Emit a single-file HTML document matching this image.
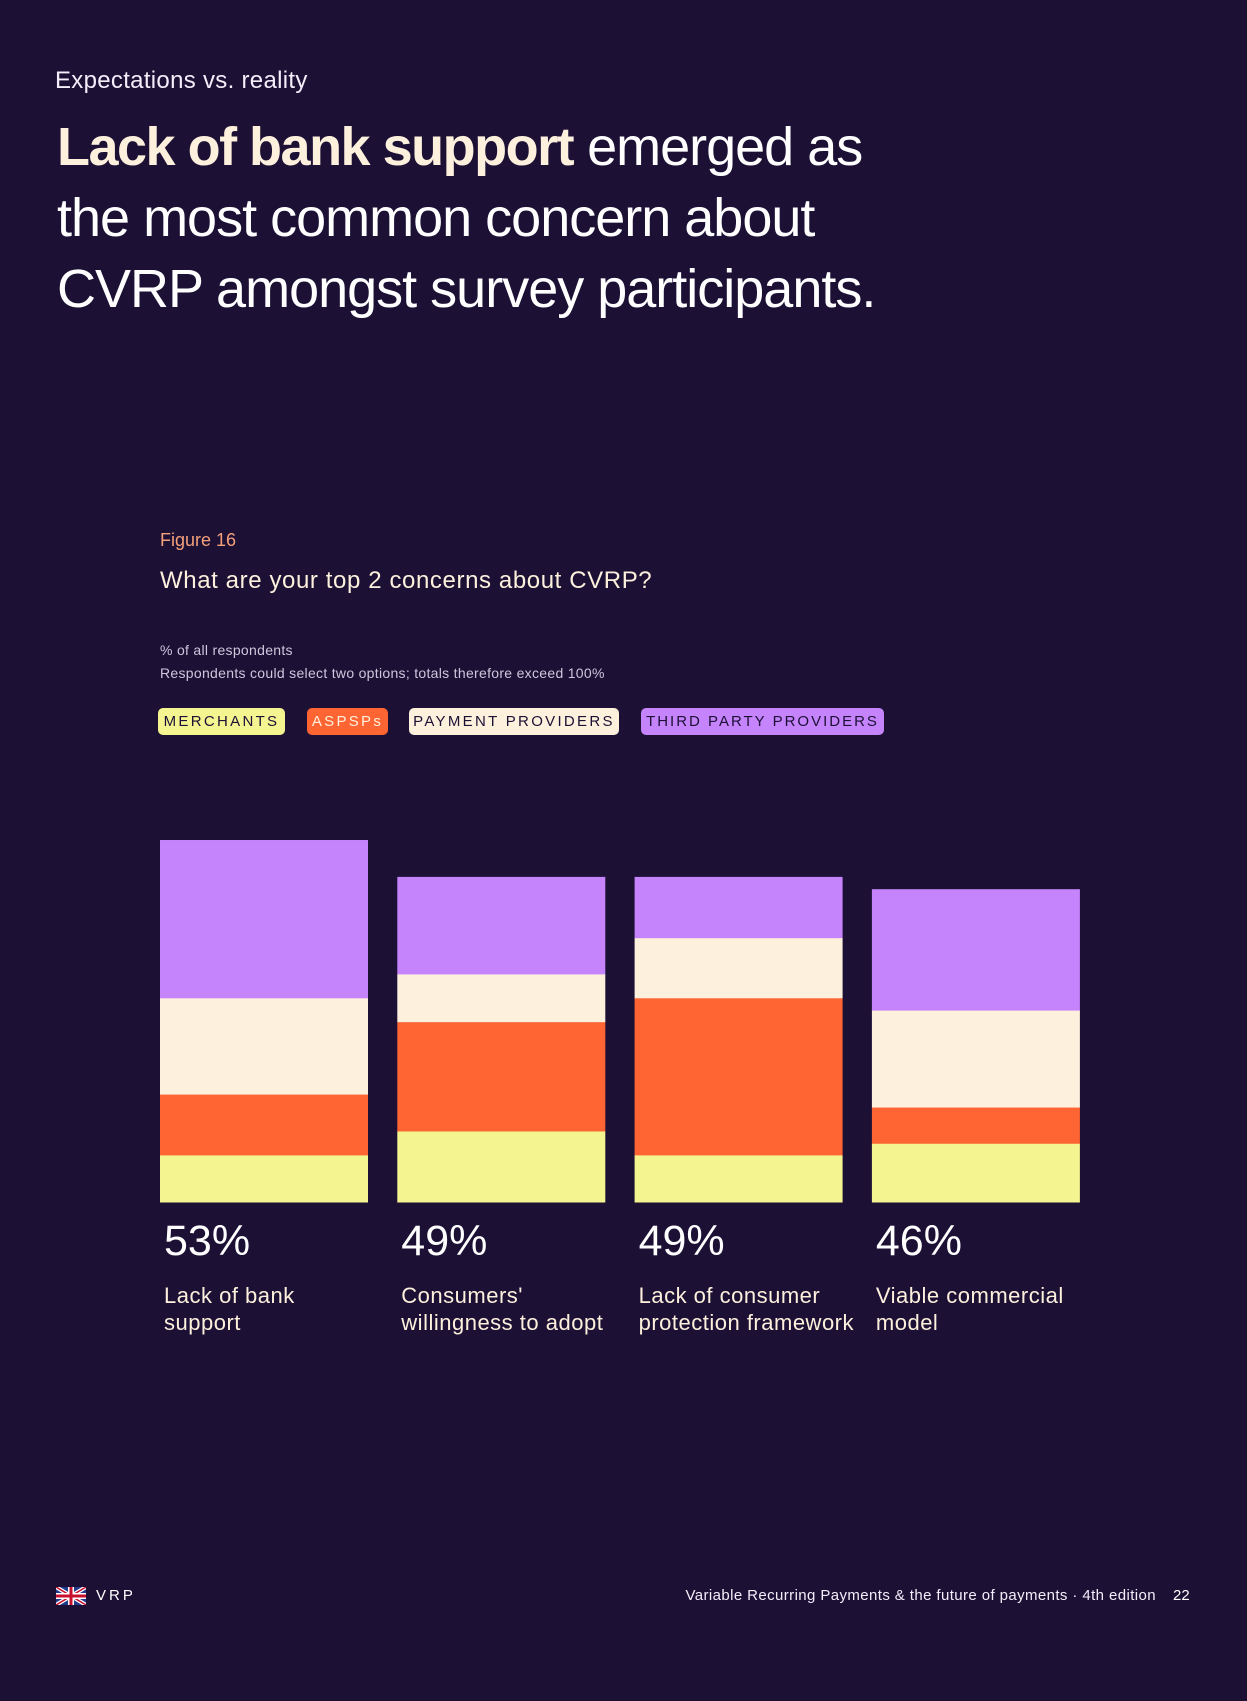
<!DOCTYPE html>
<html><head><meta charset="utf-8"><style>
body{margin:0;width:1247px;height:1701px;background:#1c1035;overflow:hidden;position:relative;font-family:"Liberation Sans",sans-serif;}
.t{position:absolute;white-space:nowrap;}
.leg{position:absolute;top:708px;height:27px;line-height:27px;border-radius:5px;font-size:15px;letter-spacing:2.3px;text-align:center;color:#1c1035;white-space:nowrap;overflow:hidden;}
</style></head><body>
<div class="t" style="left:55px;top:67px;font-size:24px;color:#f3eefa;letter-spacing:0.3px;">Expectations vs. reality</div>
<div class="t" style="left:57px;top:112px;font-size:54px;line-height:71px;color:#fff;letter-spacing:-1px;"><b style="color:#fdf0dc;letter-spacing:-1.5px">Lack of bank support</b> emerged as<br>the most common concern about<br>CVRP amongst survey participants.</div>
<div class="t" style="left:160px;top:530px;font-size:18px;color:#f4a07a;">Figure 16</div>
<div class="t" style="left:160px;top:567px;font-size:24px;color:#fdf0dc;letter-spacing:0.6px;">What are your top 2 concerns about CVRP?</div>
<div class="t" style="left:160px;top:639px;font-size:14px;color:#cfc7dc;line-height:23px;letter-spacing:0.3px;">% of all respondents<br>Respondents could select two options; totals therefore exceed 100%</div>
<div class="leg" style="left:158px;width:127px;background:#f4f490;">MERCHANTS</div>
<div class="leg" style="left:307px;width:81px;background:#ff6433;color:#fdf0dc;">ASPSPs</div>
<div class="leg" style="left:409px;width:210px;background:#fdf0dc;">PAYMENT PROVIDERS</div>
<div class="leg" style="left:641px;width:243px;background:#c583fc;letter-spacing:2px;">THIRD PARTY PROVIDERS</div>
<svg id="chart" width="1247" height="1701" style="position:absolute;left:0;top:0;"></svg>
<div class="t" style="left:56px;top:1587px;width:30px;height:18px;">
<svg width="30" height="18" viewBox="0 0 30 18"><rect width="30" height="18" fill="#1f3a8a"/><path d="M0 0L30 18M30 0L0 18" stroke="#fff" stroke-width="4"/><path d="M0 0L30 18M30 0L0 18" stroke="#c8102e" stroke-width="1.5"/><rect x="12" width="6" height="18" fill="#fff"/><rect y="6" width="30" height="6" fill="#fff"/><rect x="13.5" width="3" height="18" fill="#c8102e"/><rect y="7.5" width="30" height="3" fill="#c8102e"/></svg></div>
<div class="t" style="left:96px;top:1587px;font-size:15px;color:#fff;letter-spacing:3px;">VRP</div>
<div class="t" style="right:91px;top:1587px;font-size:15px;color:#f3eefa;letter-spacing:0.4px;">Variable Recurring Payments &amp; the future of payments · 4th edition</div>
<div class="t" style="left:1173px;top:1587px;font-size:15px;color:#fff;">22</div>
<script>
const categories=["Lack of bank support","Consumers' willingness to adopt","Lack of consumer protection framework","Viable commercial model"];
const labelLines=[["Lack of bank","support"],["Consumers'","willingness to adopt"],["Lack of consumer","protection framework"],["Viable commercial","model"]];
const totals=["53%","49%","49%","46%"];
const merchants=[6.9,10.4,6.9,8.6];
const aspsps=[8.9,16.0,23.0,5.3];
const paymentProviders=[14.1,7.0,8.8,14.2];
const thirdParty=[23.1,14.2,8.9,17.7];
const series=[merchants,aspsps,paymentProviders,thirdParty];
const colors=["#f4f490","#ff6433","#fdf0dc","#c583fc"];
const names=["merchants","aspsps","payment-providers","third-party"];
const NS="http://www.w3.org/2000/svg";
const svg=document.getElementById('chart');
const baseY=1202, pxPer=6.83, x0=160, step=237.3, bw=208;
const yScale=v=>v*pxPer;
const xPos=i=>x0+i*step;
categories.forEach((c,i)=>{
  let acc=0;
  series.forEach((s,k)=>{
    const h=yScale(s[i]);
    const r=document.createElementNS(NS,'rect');
    r.setAttribute('x',xPos(i));r.setAttribute('width',bw);
    r.setAttribute('y',baseY-yScale(acc)-h);r.setAttribute('height',h+0.5);
    r.setAttribute('fill',colors[k]);
    
    
    svg.appendChild(r);acc+=s[i];
  });
  const t=document.createElementNS(NS,'text');
  t.setAttribute('x',xPos(i)+4);t.setAttribute('y',1255);
  t.setAttribute('fill','#fff');t.setAttribute('font-size','43');
  t.setAttribute('font-family','Liberation Sans, sans-serif');
  t.textContent=totals[i];
  
  
  svg.appendChild(t);
  labelLines[i].forEach((ln,j)=>{
    const l=document.createElementNS(NS,'text');
    l.setAttribute('x',xPos(i)+4);l.setAttribute('y',1303+j*27);
    l.setAttribute('fill','#fdf0dc');l.setAttribute('font-size','22');
    l.setAttribute('letter-spacing','0.5');
    l.setAttribute('font-family','Liberation Sans, sans-serif');
    l.textContent=ln;
    
    
    svg.appendChild(l);
  });
});
</script>
</body></html>
